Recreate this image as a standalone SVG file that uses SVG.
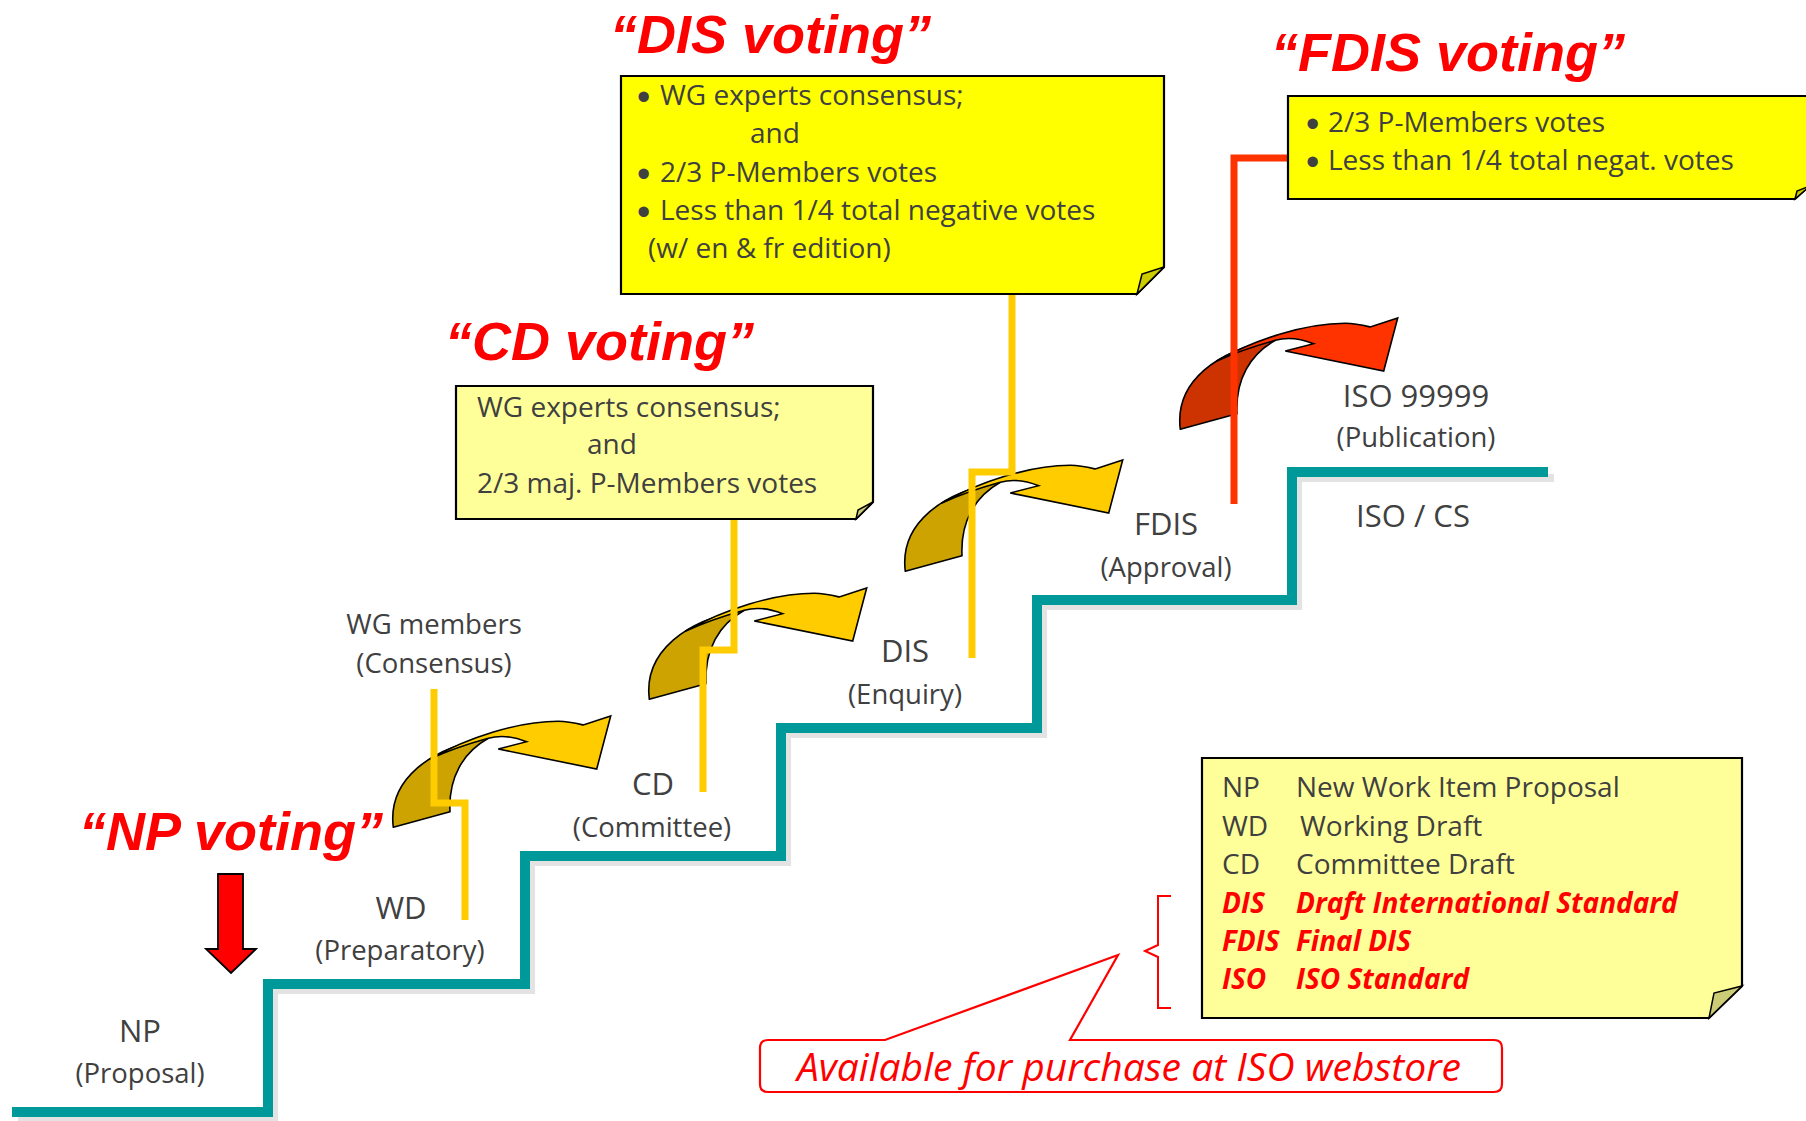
<svg xmlns="http://www.w3.org/2000/svg" width="1806" height="1121" viewBox="0 0 1806 1121">
<defs>
<style>
.lbl{font-family:"Open Sans","DejaVu Sans",sans-serif;fill:#404040;text-anchor:middle}
.big{font-size:31px}
.sub{font-size:27.5px}
.note{font-family:"Open Sans","DejaVu Sans",sans-serif;fill:#404040;font-size:28px}
.bul{font-family:"Liberation Sans",Arial,sans-serif;fill:#404040;font-size:38px}
.title{font-family:"Liberation Sans",Arial,sans-serif;font-weight:bold;font-style:italic;fill:#FF0000;font-size:54px}
.red{fill:#FF0000;font-weight:bold;font-style:italic}
.box{stroke:#000;stroke-width:2.2}
.fold{stroke:#000;stroke-width:1.5}
.arrBack{stroke:#000;stroke-width:1.6;stroke-linejoin:round}
.arrFront{stroke:#000;stroke-width:1.6;stroke-linejoin:miter}
.gB{fill:#CCA300}
.gF{fill:#FFCC00}
.rB{fill:#CC3300}
.rF{fill:#FF3300}
.conY{fill:none;stroke:#FFCC00;stroke-width:7}
.conR{fill:none;stroke:#FF3300;stroke-width:7}
</style>
</defs>
<rect width="1806" height="1121" fill="#FFFFFF"/>

<g id="staircase">
<path d="M12,1112 H268 V984 H525 V856 H781 V728 H1037 V600 H1292 V472 H1548" fill="none" stroke="#E3E3E3" stroke-width="8" transform="translate(6,6)"/>
<path d="M12,1112 H268 V984 H525 V856 H781 V728 H1037 V600 H1292 V472 H1548" fill="none" stroke="#009999" stroke-width="10"/>
</g>

<g id="arrows">
<g id="arrow-wd-cd" transform="translate(393.3,827.3)">
<path class="arrBack gB" d="M0,0 C-6,-48 38,-80 95,-89 C70,-75 55,-50 56.7,-15.6 Z"/>
<path class="arrFront gF" d="M36,-68 C75,-90 125,-106 165,-106 C175,-106 183,-104 190,-102.3 L217.4,-111.3 L203.4,-58.3 L105,-78.3 L133.4,-85.6 Q112,-94 95,-89 Q62,-80 36,-68 Z"/>
</g>
<g id="arrow-cd-dis" transform="translate(649.3,699.3)">
<path class="arrBack gB" d="M0,0 C-6,-48 38,-80 95,-89 C70,-75 55,-50 56.7,-15.6 Z"/>
<path class="arrFront gF" d="M36,-68 C75,-90 125,-106 165,-106 C175,-106 183,-104 190,-102.3 L217.4,-111.3 L203.4,-58.3 L105,-78.3 L133.4,-85.6 Q112,-94 95,-89 Q62,-80 36,-68 Z"/>
</g>
<g id="arrow-dis-fdis" transform="translate(905.3,571.3)">
<path class="arrBack gB" d="M0,0 C-6,-48 38,-80 95,-89 C70,-75 55,-50 56.7,-15.6 Z"/>
<path class="arrFront gF" d="M36,-68 C75,-90 125,-106 165,-106 C175,-106 183,-104 190,-102.3 L217.4,-111.3 L203.4,-58.3 L105,-78.3 L133.4,-85.6 Q112,-94 95,-89 Q62,-80 36,-68 Z"/>
</g>
<g id="arrow-fdis-iso" transform="translate(1180.3,429.3)">
<path class="arrBack rB" d="M0,0 C-6,-48 38,-80 95,-89 C70,-75 55,-50 56.7,-15.6 Z"/>
<path class="arrFront rF" d="M36,-68 C75,-90 125,-106 165,-106 C175,-106 183,-104 190,-102.3 L217.4,-111.3 L203.4,-58.3 L105,-78.3 L133.4,-85.6 Q112,-94 95,-89 Q62,-80 36,-68 Z"/>
</g>
</g>

<g id="connectors">
<path class="conY" d="M434,689 V803 H465 V920"/>
<path class="conY" d="M734,519 V650 H703 V792"/>
<path class="conY" d="M1012,294 V472 H972 V658"/>
<path class="conR" d="M1288,158 H1234 V504"/>
</g>

<g id="np-arrow">
<polygon points="218,874 243,874 243,949 256,949 231,973 206,949 218,949" fill="#FF0000" stroke="#000" stroke-width="1.8"/>
</g>

<g id="titles">
<text class="title" x="610" y="53">“DIS voting”</text>
<text class="title" x="1271" y="71">“FDIS voting”</text>
<text class="title" x="445" y="360">“CD voting”</text>
<text class="title" x="79" y="850">“NP voting”</text>
</g>

<g id="node-np">
<text class="lbl big" x="140" y="1042">NP</text>
<text class="lbl sub" x="140" y="1083">(Proposal)</text>
</g>
<g id="node-wd">
<text class="lbl big" x="401" y="919">WD</text>
<text class="lbl sub" x="400" y="960">(Preparatory)</text>
</g>
<g id="node-wg">
<text class="lbl sub" x="434" y="634">WG members</text>
<text class="lbl sub" x="434" y="673">(Consensus)</text>
</g>
<g id="node-cd">
<text class="lbl big" x="653" y="795">CD</text>
<text class="lbl sub" x="652" y="837">(Committee)</text>
</g>
<g id="node-dis">
<text class="lbl big" x="905" y="662">DIS</text>
<text class="lbl sub" x="905" y="704">(Enquiry)</text>
</g>
<g id="node-fdis">
<text class="lbl big" x="1166" y="535">FDIS</text>
<text class="lbl sub" x="1166" y="577">(Approval)</text>
</g>
<g id="node-iso">
<text class="lbl big" x="1416" y="407">ISO 99999</text>
<text class="lbl sub" x="1416" y="447">(Publication)</text>
<text class="lbl big" x="1413" y="527">ISO / CS</text>
</g>

<g id="note-cd">
<path class="box" d="M456,386 H873 V502 L856,519 H456 Z" fill="#FFFF99"/>
<path class="fold" d="M856,519 L858,510 L873,502 Z" fill="#CCCC77"/>
<text class="note" x="477" y="417">WG experts consensus;</text>
<text class="note" x="587" y="454">and</text>
<text class="note" x="477" y="493">2/3 maj. P-Members votes</text>
</g>

<g id="note-dis">
<path class="box" d="M621,76 H1164 V267 L1137,294 H621 Z" fill="#FFFF00"/>
<path class="fold" d="M1137,294 L1142,274 L1164,267 Z" fill="#CCCC00"/>
<text class="bul" x="637" y="110">•</text><text class="note" x="660" y="105">WG experts consensus;</text>
<text class="note" x="750" y="143">and</text>
<text class="bul" x="637" y="187">•</text><text class="note" x="660" y="182">2/3 P-Members votes</text>
<text class="bul" x="637" y="225">•</text><text class="note" x="660" y="220">Less than 1/4 total negative votes</text>
<text class="note" x="648" y="258">(w/ en &amp; fr edition)</text>
</g>

<g id="note-fdis">
<path class="box" d="M1288,96 H1810 V185 L1795,199 H1288 Z" fill="#FFFF00"/>
<path class="fold" d="M1795,199 L1797,191 L1810,186 Z" fill="#CCCC00"/>
<text class="bul" x="1306" y="137">•</text><text class="note" x="1328" y="132">2/3 P-Members votes</text>
<text class="bul" x="1306" y="175">•</text><text class="note" x="1328" y="170">Less than 1/4 total negat. votes</text>
</g>

<g id="legend">
<path class="box" d="M1202,758 H1742 V986 L1709,1018 H1202 Z" fill="#FFFF99"/>
<path class="fold" d="M1709,1018 L1714,993 L1742,986 Z" fill="#CCCC77"/>
<text class="note" x="1222" y="797">NP</text><text class="note" x="1296" y="797">New Work Item Proposal</text>
<text class="note" x="1222" y="836">WD</text><text class="note" x="1300" y="836">Working Draft</text>
<text class="note" x="1222" y="874">CD</text><text class="note" x="1296" y="874">Committee Draft</text>
<text class="note red" x="1222" y="913">DIS</text><text class="note red" x="1296" y="913">Draft International Standard</text>
<text class="note red" x="1222" y="951">FDIS</text><text class="note red" x="1296" y="951">Final DIS</text>
<text class="note red" x="1222" y="989">ISO</text><text class="note red" x="1296" y="989">ISO Standard</text>
</g>

<g id="brace">
<path d="M1171,896 H1158 V945 L1145,951 L1158,957 V1008 H1171" fill="none" stroke="#FF0000" stroke-width="2"/>
</g>

<g id="callout">
<path d="M768,1040 H885 L1118,955 L1070,1040 H1494 Q1502,1040 1502,1048 V1084 Q1502,1092 1494,1092 H768 Q760,1092 760,1084 V1048 Q760,1040 768,1040 Z" fill="#FFFFFF" stroke="#FF0000" stroke-width="2.2"/>
<text x="1129" y="1081" text-anchor="middle" font-family="'Open Sans','DejaVu Sans',sans-serif" font-style="italic" font-size="39" fill="#FF0000">Available for purchase at ISO webstore</text>
</g>
</svg>
